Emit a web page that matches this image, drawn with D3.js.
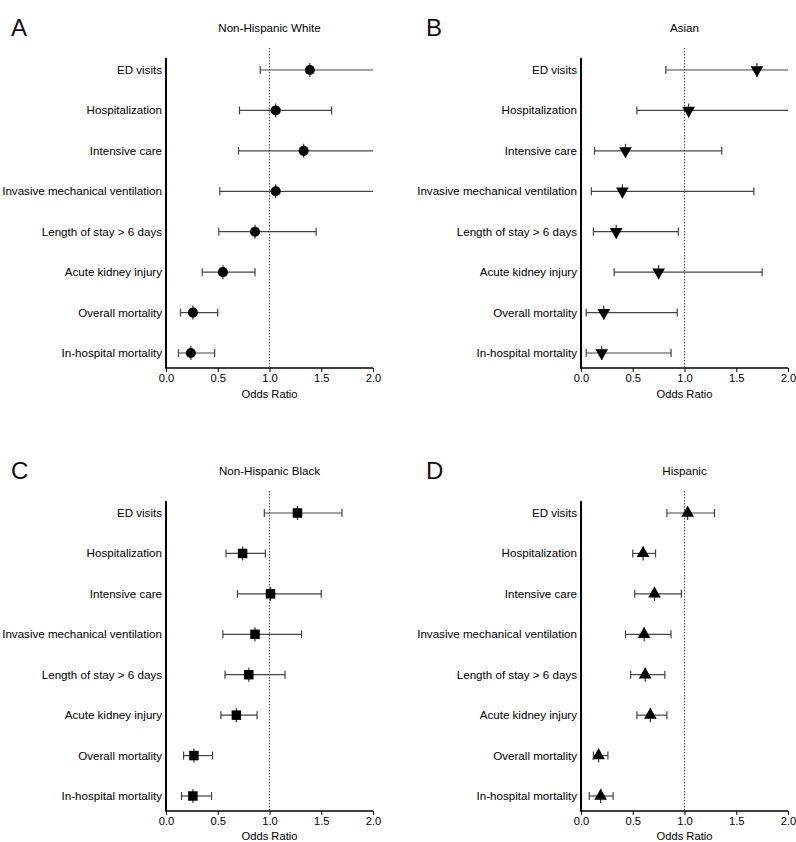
<!DOCTYPE html>
<html><head><meta charset="utf-8">
<script src="https://cdn.jsdelivr.net/npm/d3@7"></script>
<style>body{margin:0;background:#fff}svg{display:block}text{font-family:"Liberation Sans",Arial,sans-serif}</style>
</head><body>
<script>
const categories = ["ED visits","Hospitalization","Intensive care","Invasive mechanical ventilation","Length of stay  > 6 days","Acute kidney injury","Overall mortality","In-hospital mortality"];
const xTicks = [0,0.5,1.0,1.5,2.0];
const panelLetters = ["A","B","C","D"];
const panelTitles = ["Non-Hispanic White","Asian","Non-Hispanic Black","Hispanic"];
const markerTypes = ["circle","triangleDown","square","triangleUp"];
// odds ratios, lower CI, upper CI (upper > 2.0 are off-scale)
const whiteOR = [1.39,1.06,1.33,1.06,0.86,0.55,0.26,0.24];
const whiteLo = [0.91,0.71,0.70,0.52,0.51,0.35,0.14,0.12];
const whiteHi = [2.4,1.60,2.4,2.4,1.45,0.86,0.50,0.47];
const asianOR = [1.70,1.04,0.43,0.40,0.34,0.75,0.22,0.20];
const asianLo = [0.82,0.54,0.13,0.10,0.12,0.32,0.05,0.05];
const asianHi = [2.4,2.4,1.36,1.67,0.94,1.75,0.93,0.87];
const blackOR = [1.27,0.74,1.01,0.86,0.80,0.68,0.27,0.26];
const blackLo = [0.95,0.58,0.69,0.55,0.57,0.53,0.17,0.15];
const blackHi = [1.70,0.96,1.50,1.31,1.15,0.88,0.45,0.44];
const hispOR = [1.03,0.60,0.71,0.61,0.62,0.67,0.17,0.19];
const hispLo = [0.83,0.50,0.52,0.43,0.48,0.54,0.12,0.08];
const hispHi = [1.29,0.72,0.97,0.87,0.81,0.83,0.26,0.31];
const panelOR = [whiteOR,asianOR,blackOR,hispOR];
const panelLo = [whiteLo,asianLo,blackLo,hispLo];
const panelHi = [whiteHi,asianHi,blackHi,hispHi];

const W=796,H=842;
const svg=d3.select("body").append("svg").attr("width",W).attr("height",H);
const origins=[[166,0],[581,0],[166,443],[581,443]];
const FS=11.6;

origins.forEach((o,p)=>{
  const g=svg.append("g");
  const x=d3.scaleLinear().domain([0,2]).range([o[0],o[0]+207]);
  const y=d3.scalePoint().domain(categories).range([o[1]+70,o[1]+353]);
  const axisY=o[1]+368, topY=o[1]+58;
  g.append("text").attr("x",o[0]-155).attr("y",o[1]+36).attr("font-size",24).attr("fill","#111").text(panelLetters[p]);
  g.append("text").attr("x",x(1)).attr("y",o[1]+32).attr("text-anchor","middle").attr("font-size",FS).text(panelTitles[p]);
  // y axis line
  g.append("line").attr("x1",o[0]).attr("x2",o[0]).attr("y1",topY).attr("y2",axisY).attr("stroke","#000").attr("stroke-width",2);
  categories.forEach(c=>{
    g.append("text").attr("x",o[0]-4).attr("y",y(c)).attr("dy","0.35em").attr("text-anchor","end").attr("font-size",FS).text(c);
  });
  // x axis
  const ax=g.append("g").attr("transform",`translate(0,${axisY})`)
    .call(d3.axisBottom(x).tickValues(xTicks).tickFormat(d3.format(".1f")).tickSize(4).tickPadding(2).tickSizeOuter(0));
  ax.select(".domain").attr("stroke-width",1.5).attr("d",`M${o[0]-1},0H${o[0]+207}`);
  ax.selectAll("text").attr("font-size",11.2).attr("font-family","Liberation Sans, Arial, sans-serif").attr("dy","0.71em");
  g.append("text").attr("x",x(1)).attr("y",axisY+(p<2?30:29)).attr("text-anchor","middle").attr("font-size",11.2).text("Odds Ratio");
  // reference line
  g.append("line").attr("x1",x(1)).attr("x2",x(1)).attr("y1",topY-10).attr("y2",axisY)
    .attr("stroke","#555").attr("stroke-width",1).attr("stroke-dasharray","1.5,1.5");
  const ors=panelOR[p],lo=panelLo[p],hi=panelHi[p];
  categories.forEach((c,i)=>{
    const yy=y(c);
    const l=Math.max(0,lo[i]),h=Math.min(2,hi[i]);
    g.append("line").attr("x1",x(l)).attr("x2",x(h)).attr("y1",yy).attr("y2",yy).attr("stroke","#444").attr("stroke-width",1.2);
    if(lo[i]>=0) g.append("line").attr("x1",x(l)).attr("x2",x(l)).attr("y1",yy-4).attr("y2",yy+4).attr("stroke","#444").attr("stroke-width",1.2);
    if(hi[i]<=2) g.append("line").attr("x1",x(h)).attr("x2",x(h)).attr("y1",yy-4).attr("y2",yy+4).attr("stroke","#444").attr("stroke-width",1.2);
    const cx=x(ors[i]);
    g.append("line").attr("x1",cx).attr("x2",cx).attr("y1",yy-7).attr("y2",yy+7).attr("stroke","#333").attr("stroke-width",1.2);
    const t=markerTypes[p];
    let sym;
    if(t==="circle") sym=d3.symbol(d3.symbolCircle,80);
    else if(t==="square") sym=d3.symbol(d3.symbolSquare,90);
    else sym=d3.symbol(d3.symbolTriangle,70);
    const path=g.append("path").attr("d",sym()).attr("fill","#000");
    if(t==="triangleDown") path.attr("transform",`translate(${cx},${yy}) rotate(180)`);
    else path.attr("transform",`translate(${cx},${yy})`);
  });
});
</script>
</body></html>
